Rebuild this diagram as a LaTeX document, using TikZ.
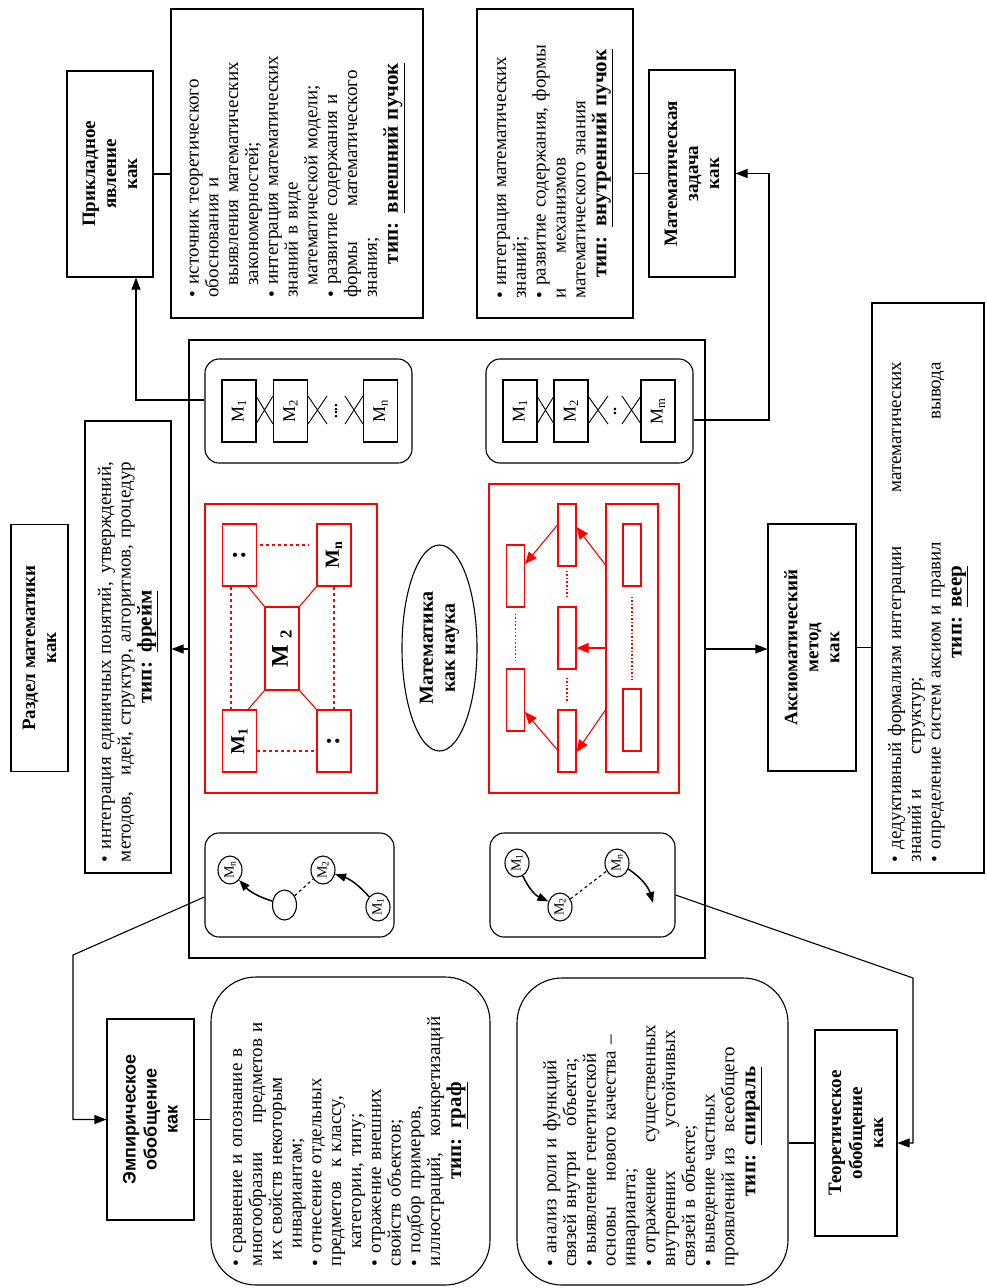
\documentclass[tikz,border=0pt]{standalone}
\usepackage{fontspec}
\setmainfont{Liberation Serif}
\newfontfamily\headsans{Liberation Sans}
\usetikzlibrary{positioning,arrows.meta,shapes.geometric}
\setlength{\parindent}{0pt}
\newcommand{\typeline}[2][0pt]{\par\centering\rightskip=#1 plus 1fil\bfseries\fontsize{21}{21}\selectfont тип: \underline{#2}\par}

\begin{document}
\begin{tikzpicture}[x=1pt, y=-1pt, line width=1.1pt]
            \tikzstyle{head} = [draw, rotate=90, align=center, inner sep=2pt, font=\bfseries\fontsize{19}{21}\selectfont]
            \tikzstyle{list} = [draw, rotate=90, inner sep=0pt, font=\fontsize{19}{19.8}\selectfont]
            \tikzstyle{mbox} = [draw, rotate=90, minimum width=62pt, minimum height=34pt, inner sep=0pt, font=\fontsize{18}{18}\selectfont]
            \tikzstyle{fbox} = [mbox, draw=red, font=\bfseries\fontsize{20}{20}\selectfont]
            \tikzstyle{bar} = [draw=red, minimum width=18pt, minimum height=62pt, inner sep=0pt]
            \tikzstyle{mcirc} = [draw, ellipse, rotate=90, minimum width=28pt, minimum height=24pt, inner sep=0pt, font=\fontsize{14}{14}\selectfont]
            \tikzstyle{rnd} = [draw, rounded corners=14pt, inner sep=0pt]
            \tikzstyle{arr} = [-{Triangle[length=12pt,width=9pt]}]
            \tikzstyle{rarr} = [red, -{Triangle[length=12pt,width=10pt]}]
            \tikzstyle{garr} = [line width=1.5pt, -{Triangle[length=11pt,width=8pt]}]
            \tikzstyle{dots} = [red, dotted, line width=1.6pt]

            \useasboundingbox (0,0) rectangle (986,1288);

            % top row
            \node [head, minimum width=206pt, minimum height=86pt] (app) at (110,174) {Прикладное\\явление\\как};
            \node [list, minimum width=309pt, minimum height=252pt, text width=268pt] (ext) at (297,163.5) {\raggedright
                • источник теоретического\\
                обоснования и\\
                \hspace*{12pt}выявления математических\\
                \hspace*{12pt}закономерностей;\\
                • интеграция математических\\
                знаний в виде\\
                \hspace*{12pt}математической модели;\\
                • развитие содержания и\\
                формы \hspace{1.5em}математического\\
                знания;
                \typeline{внешний пучок}};
            \node [list, minimum width=309pt, minimum height=156pt, text width=270pt] (int) at (555,163.5) {\raggedright
                • интеграция математических\\
                знаний;\\
                • развитие содержания, формы\\
                и \hspace{1.5em}механизмов\\
                математического знания
                \typeline{внутренний пучок}};
            \node [head, minimum width=207pt, minimum height=86pt] (task) at (692,173.5) {Математическая\\задача\\как};

            % left column
            \node [head, minimum width=247pt, minimum height=57pt] (sect) at (39.5,648) {Раздел математики\\как};
            \node [list, minimum width=452pt, minimum height=86pt, text width=430pt] (frm) at (128,647) {\rightskip=30pt
                • интеграция единичных понятий, \hfill утверждений,\\
                методов, \hfill идей, структур, алгоритмов, процедур
                \typeline{фрейм}};

            % centre
            \node [draw, line width=1.3pt, minimum width=516pt, minimum height=618pt] (sci) at (447,649) {};
            \node [draw, ellipse, rotate=90, minimum width=206pt, minimum height=75pt, inner sep=0pt, align=center, font=\bfseries\fontsize{20}{22}\selectfont] (math) at (439.5,648) {Математика\\как наука};

            \node [rnd, minimum width=207pt, minimum height=104pt] (lin1) at (308.5,411) {};
            \node [mbox] (a1) at (239,411) {M\textsubscript{1}};
            \node [mbox] (a2) at (290.5,411) {M\textsubscript{2}};
            \node [mbox] (an) at (380.5,411) {M\textsubscript{n}};
            \node [rotate=90, inner sep=0pt, font=\bfseries\fontsize{15}{15}\selectfont] (adots) at (336,411) {....};

            \node [rnd, minimum width=207pt, minimum height=104pt] (lin2) at (589.5,411) {};
            \node [mbox] (b1) at (520,411) {M\textsubscript{1}};
            \node [mbox] (b2) at (571,411) {M\textsubscript{2}};
            \node [mbox] (bm) at (658,411) {M\textsubscript{m}};
            \node [rotate=90, inner sep=0pt, font=\bfseries\fontsize{16}{16}\selectfont] (bdots) at (615,411) {..};

            \foreach \l/\r in {256/273, 308/327, 345/363, 537/554, 588/608, 622/641}
                \draw [line width=0.9pt] (\l,396) -- (\r,424) (\l,424) -- (\r,396);

            % frame
            \node [draw=red, minimum width=172pt, minimum height=289pt] (rf) at (291,648.5) {};
            \node [fbox, font=\bfseries\fontsize{26}{26}\selectfont] (fa) at (239.5,555) {:};
            \node [fbox] (fn) at (334,555) {M\textsubscript{n}};
            \node [fbox] (f1) at (239.5,741) {M\textsubscript{1}};
            \node [fbox, font=\bfseries\fontsize{26}{26}\selectfont] (fb) at (334,741) {:};
            \node [fbox, minimum width=83pt, font=\bfseries\fontsize{24}{24}\selectfont] (f2) at (282,648.5) {M \textsubscript{2}};
            \draw [red, dashed, shorten <=3pt, shorten >=8pt] ([yshift=10pt]fa.south) -- ([yshift=10pt]fn.north);
            \draw [red, dashed] ([yshift=-10pt]f1.south) -- ([yshift=-10pt]fb.north);
            \draw [red, dashed] ([xshift=-8.5pt]fa.west) -- ([xshift=-8.5pt]f1.east);
            \draw [red, dashed] (fn.west) -- (fb.east);
            \draw [red] ([xshift=8.5pt]fa.west) -- (f2.north east);
            \draw [red] (fn.north west) -- (f2.south east);
            \draw [red] (f2.north west) -- ([xshift=8.5pt]f1.east);
            \draw [red] (f2.south west) -- (fb.north east);

            % fan
            \node [draw=red, minimum width=190pt, minimum height=309pt] (rv) at (584,638.5) {};
            \node [draw=red, minimum width=52pt, minimum height=268pt] (vt) at (632,638) {};
            \node [bar] (v1) at (632,555) {};
            \node [bar] (v2) at (632,720) {};
            \node [bar] (c1) at (567,535) {};
            \node [bar] (c2) at (567,638) {};
            \node [bar] (c3) at (567,741) {};
            \node [bar] (l1) at (515.5,576) {};
            \node [bar] (l2) at (515.5,700) {};
            \draw [dots, shorten <=10pt, shorten >=9pt] (v1.south) -- (v2.north);
            \draw [dots, shorten <=4pt, shorten >=9pt] (c1.south) -- (c2.north);
            \draw [dots, shorten <=8pt, shorten >=7pt] (c2.south) -- (c3.north);
            \draw [dots, shorten <=6pt, shorten >=7pt] (l1.south) -- (l2.north);
            \draw [rarr] ([yshift=73pt]vt.west) -- ([yshift=8pt]c1.east);
            \draw [rarr] ([yshift=10pt]c1.west) -- ([yshift=12pt]l1.east);
            \draw [rarr] ([yshift=-10pt]vt.west) -- ([yshift=-10pt]c2.east);
            \draw [rarr] ([yshift=-72pt]vt.west) -- ([yshift=-11pt]c3.east);
            \draw [rarr] ([yshift=-9pt]c3.west) -- ([yshift=-12pt]l2.east);

            % graph and spiral
            \node [rnd, minimum width=189pt, minimum height=104pt] (gb) at (299.5,885) {};
            \node [mcirc] (gn) at (230,870) {M\textsubscript{n}};
            \node [mcirc] (g2) at (323,870) {M\textsubscript{2}};
            \node [mcirc] (g1) at (378,907) {M\textsubscript{1}};
            \node [draw, ellipse, minimum width=24pt, minimum height=30pt, inner sep=0pt] (g0) at (284.5,905) {};
            \draw [garr] (g1) to [bend right=15] (g2);
            \draw [garr] (g0) to [bend left=15] (gn);
            \draw [dashed] (g0) -- (g2);

            \node [rnd, minimum width=185pt, minimum height=104pt] (sb) at (582.5,885) {};
            \node [mcirc] (s1) at (517,863) {M\textsubscript{1}};
            \node [mcirc] (s2) at (560,907) {M\textsubscript{2}};
            \node [mcirc] (sn) at (617,863) {M\textsubscript{n}};
            \coordinate (send) at (653,903);
            \draw [garr] (s1) to [bend right=20] (s2);
            \draw [dashed] (s2) -- (sn);
            \draw [garr] (sn) to [bend left=20] (send);

            % right column
            \node [head, minimum width=247pt, minimum height=88pt] (ax) at (812,647.5) {Аксиоматический\\метод\\как};
            \node [list, minimum width=570pt, minimum height=112pt, text width=548pt] (veer) at (928,588) {\rightskip=48pt
                • дедуктивный формализм интеграции \hfill математических\\
                знаний и \hspace{1.5em}структур;\\
                • определение систем аксиом и правил \hfill вывода
                \typeline[48pt]{веер}};

            % bottom row
            \node [head, font=\headsans\bfseries\fontsize{18}{21}\selectfont, minimum width=201pt, minimum height=87pt] (emp) at (150.5,1119.5) {Эмпирическое\\обобщение\\как};
            \node [list, rounded corners=45pt, minimum width=308pt, minimum height=279pt, text width=270pt] (gl) at (350.5,1131) {\raggedright
                • сравнение и опознание в\\
                многообразии \hspace{1.2em}предметов и\\
                \hspace*{6pt}их свойств некоторым\\
                \hspace*{18pt}инвариантам;\\
                • отнесение отдельных\\
                предметов \hspace{0.4em}к классу,\\
                \hspace*{18pt}категории, типу;\\
                • отражение внешних\\
                свойств объектов;\\
                • подбор примеров,\\
                иллюстраций, \hspace{0.5em}конкретизаций
                \typeline{граф}};
            \node [list, rounded corners=45pt, minimum width=307pt, minimum height=271pt, text width=270pt] (sl) at (652.5,1131.5) {\raggedright
                • анализ роли и функций\\
                связей внутри \hspace{1em}объекта;\\
                • выявление генетической\\
                основы \hspace{1em}нового качества –\\
                инварианта;\\
                • отражение \hspace{1em}существенных\\
                внутренних \hspace{2em}устойчивых\\
                связей в объекте;\\
                • выведение частных\\
                проявлений из \hspace{0.5em}всеобщего
                \typeline{спираль}};
            \node [head, minimum width=206pt, minimum height=82pt] (teor) at (856,1133) {Теоретическое\\обобщение\\как};

            % connectors
            \coordinate (k1) at (136,400);
            \coordinate (k2) at (769,420);
            \coordinate (k3) at (73,955);
            \coordinate (k4) at (913,978);
            \coordinate (k5) at (913,1143);
            \draw [arr] (k1 -| lin1.west) -- (k1) -- (k1 |- app.west);
            \draw (app.south) -- (app.south -| ext.north);
            \draw [arr] (k2 -| lin2.east) -- (k2) |- (task.south);
            \draw (task.north) -- (task.north -| int.south);
            \draw [arr] (sci.west) -- (sci.west -| frm.south);
            \draw [arr] (sci.east) -- (sci.east -| ax.north);
            \draw (ax.south) -- (ax.south -| veer.north);
            \draw [arr] ([yshift=-12pt]gb.west) -- (k3) |- (emp.north);
            \draw (emp.south) -- (emp.south -| gl.north);
            \draw [arr] ([yshift=-10pt]sb.east) -- (k4) -- (k5) -- (k5 -| teor.south);
            \draw (k5 -| teor.north) -- (k5 -| sl.south);
        \end{tikzpicture}
\end{document}
